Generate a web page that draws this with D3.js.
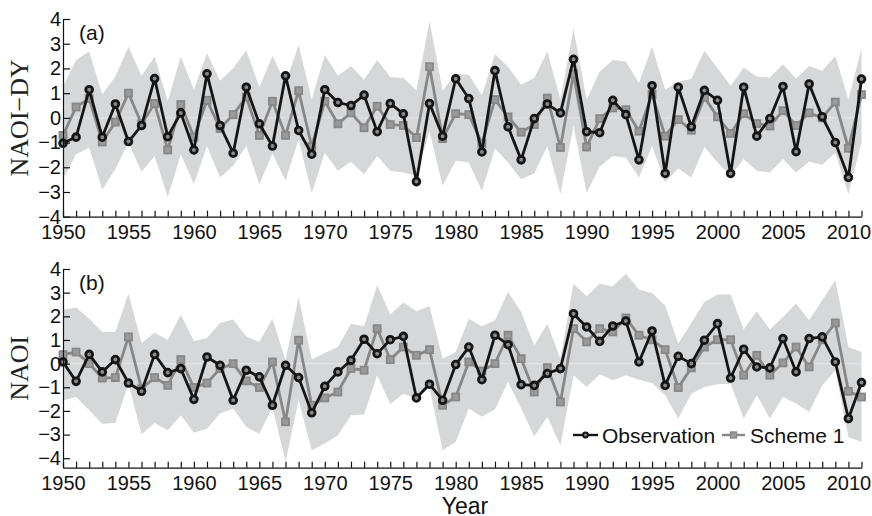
<!DOCTYPE html>
<html lang="en">
<head>
    <meta charset="UTF-8">
    <title>NAOI-DY and NAOI</title>
    <script type="text/javascript" src="https://d3js.org/d3.v7.min.js"></script>
    <style>
      body { margin: 0; background: #fff; }
      svg text { font-family: "Liberation Sans", Arial, sans-serif; }
    </style>
    <script type="text/javascript">
      // years on the x axis
      var years = d3.range(1950, 2012);
      var yearLabels = [1950, 1955, 1960, 1965, 1970, 1975, 1980, 1985, 1990, 1995, 2000, 2005, 2010];
      var yTicks = [-4, -3, -2, -1, 0, 1, 2, 3, 4];

      // panel (a) NAOI-DY
      var obsA = [-1.03, -0.78, 1.14, -0.78, 0.56, -0.96, -0.31, 1.59, -0.76, 0.20,
                  -1.30, 1.78, -0.31, -1.43, 1.24, -0.24, -1.14, 1.70, -0.51, -1.47,
                  1.14, 0.62, 0.50, 0.92, -0.56, 0.58, 0.16, -2.58, 0.58, -0.74,
                  1.58, 0.78, -1.38, 1.91, -0.36, -1.70, -0.03, 0.56, 0.20, 2.37,
                  -0.56, -0.60, 0.71, 0.13, -1.70, 1.30, -2.25, 1.24, -0.36, 1.11,
                  0.71, -2.25, 1.24, -0.74, -0.03, 1.27, -1.37, 1.37, 0.04, -1.00, -2.41, 1.57];
      var simA = [-0.71, 0.44, 0.78, -0.98, -0.17, 1.00, -0.24, 0.58, -1.30, 0.54,
                  -0.78, 0.71, -0.43, 0.13, 0.84, -0.71, 0.67, -0.71, 1.10, -1.16,
                  0.67, -0.24, 0.20, -0.40, 0.47, -0.27, -0.31, -0.80, 2.07, -0.84,
                  0.17, 0.13, -1.03, 0.74, 0.04, -0.58, -0.27, 0.80, -1.20, 1.78,
                  -1.18, -0.03, 0.40, 0.33, -0.54, 0.96, -0.74, -0.07, -0.50, 0.83,
                  0.04, -0.63, 0.17, -0.23, -0.33, 0.29, -0.31, 0.20, 0.00, 0.64, -1.23, 0.94];
      var upA = [1.27, 2.34, 2.68, 0.94, 1.67, 2.88, 1.70, 2.48, 0.67, 2.48,
                 1.14, 2.61, 1.50, 2.01, 2.74, 1.24, 2.50, 1.41, 2.95, 0.74,
                 2.54, 1.70, 2.10, 1.54, 2.34, 1.65, 1.61, 1.11, 3.92, 1.11,
                 1.78, 1.74, 0.91, 2.58, 2.07, 1.34, 1.61, 2.68, 0.74, 3.61,
                 0.74, 1.87, 2.34, 2.28, 1.41, 2.88, 1.14, 1.47, 1.57, 2.72,
                 2.01, 1.30, 2.04, 1.67, 1.63, 2.17, 1.58, 2.10, 1.91, 2.50, 0.74, 2.81];
      var loA = [-2.48, -1.47, -1.20, -2.90, -2.07, -1.00, -2.18, -1.54, -3.21, -1.47,
                 -2.68, -1.14, -2.41, -1.94, -1.14, -2.68, -1.45, -2.54, -0.87, -3.04,
                 -1.41, -2.14, -1.78, -2.28, -1.54, -2.14, -2.21, -2.34, -0.54, -2.74,
                 -1.74, -1.81, -2.95, -1.24, -1.81, -2.48, -2.24, -1.14, -3.08, -0.31,
                 -3.04, -1.98, -1.54, -1.61, -2.41, -1.14, -2.61, -2.05, -2.41, -1.18,
                 -1.81, -2.34, -1.67, -2.14, -2.21, -1.67, -2.21, -1.77, -1.91, -1.41, -3.08, -1.00];

      // panel (b) NAOI
      var obsB = [0.07, -0.75, 0.39, -0.35, 0.17, -0.82, -1.17, 0.39, -0.38, -0.21,
                  -1.51, 0.28, -0.07, -1.55, -0.28, -0.56, -1.76, -0.07, -0.59, -2.08,
                  -0.96, -0.35, 0.14, 1.03, 0.42, 1.01, 1.15, -1.45, -0.87, -1.55,
                  -0.04, 0.70, -0.68, 1.20, 0.80, -0.89, -0.92, -0.42, -0.21, 2.11,
                  1.55, 0.94, 1.59, 1.80, 0.07, 1.38, -0.92, 0.31, 0.00, 0.99,
                  1.69, -0.61, 0.61, -0.14, -0.18, 1.06, -0.35, 1.06, 1.13, 0.07, -2.32, -0.80];
      var simB = [0.38, 0.49, 0.00, -0.61, -0.59, 1.13, -1.06, -0.59, -0.92, 0.17,
                  -1.01, -0.82, -0.21, 0.00, -0.73, -1.01, 0.07, -2.46, 0.99, -1.76,
                  -1.45, -1.20, -0.21, -0.28, 1.48, 0.17, 0.70, 0.35, 0.59, -1.76,
                  -1.41, 0.07, -0.31, 0.00, 1.20, 0.21, -1.20, -0.17, -1.62, 1.48,
                  0.92, 1.48, 1.34, 1.93, 1.20, 1.01, 0.59, -1.01, -0.18, 0.70,
                  1.01, 1.01, -0.49, 0.35, -0.49, 0.03, 0.70, -0.14, 1.01, 1.72, -1.17, -1.41];
      var upB = [2.28, 2.37, 1.90, 1.34, 1.34, 2.96, 0.87, 1.30, 1.01, 2.07,
                 0.96, 1.08, 1.72, 1.86, 1.15, 0.92, 1.90, 0.14, 2.82, 0.17,
                 0.45, 0.70, 1.69, 1.58, 3.31, 2.08, 2.58, 2.21, 2.44, 0.21,
                 0.49, 1.90, 1.58, 1.83, 3.03, 2.18, 0.77, 1.69, 0.21, 3.38,
                 2.85, 3.38, 3.27, 3.80, 3.13, 2.99, 2.46, 0.85, 1.72, 2.61,
                 2.92, 2.92, 1.44, 2.21, 1.44, 1.97, 2.54, 1.83, 2.68, 3.52, 0.70, 0.49];
      var loB = [-1.55, -1.41, -1.97, -2.54, -2.51, -0.85, -2.99, -2.51, -2.82, -2.18,
                 -2.92, -2.75, -2.11, -1.90, -2.68, -2.96, -1.83, -4.15, -1.55, -3.66,
                 -3.38, -3.03, -2.18, -2.15, -0.49, -1.72, -1.27, -1.48, -1.01, -3.66,
                 -3.31, -1.90, -2.25, -1.94, -0.77, -1.90, -3.07, -2.25, -3.45, -0.49,
                 -0.99, -0.45, -0.70, -0.49, -0.68, -0.82, -1.34, -2.32, -1.27, -0.99,
                 -0.87, -0.85, -2.32, -1.34, -2.32, -1.41, -1.69, -2.04, -0.92, -0.28, -3.10, -3.31];

      var seriesNames = ["Observation", "Scheme 1"];

      function diagrama() {
        var ancho = 872, alto = 516;
        var negro = "#151515", gris = "#878787", banda = "#d6d7d9";

        var svg = d3.select("body").append("svg")
            .attr("width", ancho)
            .attr("height", alto);

        // x scale shared by both panels
        var x = d3.scaleLinear().domain([1950, 2011]).range([63, 861.5]);

        var paneles = [
          {tag: "(a)", label: "NAOI\u2212DY", obs: obsA, sim: simA, up: upA, lo: loA,
           dom: [-4, 4], top: 19, bottom: 216.7},
          {tag: "(b)", label: "NAOI", obs: obsB, sim: simB, up: upB, lo: loB,
           dom: [-4.4, 4], top: 269, bottom: 467.7}
        ];

        paneles.forEach(function(p) {
          var y = d3.scaleLinear().domain(p.dom).range([p.bottom, p.top]);
          var g = svg.append("g");

          // shaded spread
          var area = d3.area()
              .x(function(d, i) { return x(years[i]); })
              .y0(function(d, i) { return y(p.lo[i]); })
              .y1(function(d, i) { return y(p.up[i]); });
          g.append("path").datum(years)
              .attr("d", area)
              .attr("fill", banda);

          // faint zero line
          g.append("line")
              .attr("x1", x(1950)).attr("x2", x(2011))
              .attr("y1", y(0)).attr("y2", y(0))
              .attr("stroke", "#e6e6e7").attr("stroke-width", 1);

          var linea = function(vals) {
            return d3.line()
              .x(function(d, i) { return x(years[i]); })
              .y(function(d) { return y(d); })(vals);
          };

          // scheme 1 (gray squares)
          g.append("path").attr("d", linea(p.sim))
              .attr("fill", "none").attr("stroke", gris).attr("stroke-width", 2.8);
          g.selectAll(".sq").data(p.sim).enter().append("rect")
              .attr("x", function(d, i) { return x(years[i]) - 3.5; })
              .attr("y", function(d) { return y(d) - 3.5; })
              .attr("width", 7).attr("height", 7)
              .attr("fill", "#9a9a9a").attr("stroke", gris).attr("stroke-width", 1.8);

          // observation (black circles)
          g.append("path").attr("d", linea(p.obs))
              .attr("fill", "none").attr("stroke", negro).attr("stroke-width", 2.8);
          g.selectAll(".ci").data(p.obs).enter().append("circle")
              .attr("cx", function(d, i) { return x(years[i]); })
              .attr("cy", function(d) { return y(d); })
              .attr("r", 3.4)
              .attr("fill", "#8a8a8a").attr("stroke", negro).attr("stroke-width", 2.8);

          // x axis: ticks every year pointing inwards, labels every 5 years
          var ejeX = d3.axisBottom(x)
              .tickValues(years)
              .tickSizeInner(-6).tickSizeOuter(0).tickPadding(8)
              .tickFormat(function(d) { return yearLabels.indexOf(d) >= 0 ? d : ""; });
          var gx = svg.append("g")
              .attr("transform", "translate(0," + p.bottom + ")")
              .call(ejeX);
          gx.selectAll("text").attr("font-size", 20).attr("fill", "#111")
              .style("font-family", "Liberation Sans, Arial, sans-serif");

          // y axis
          var ejeY = d3.axisLeft(y)
              .tickValues(yTicks)
              .tickSizeInner(-7).tickSizeOuter(0).tickPadding(2)
              .tickFormat(d3.format("d"));
          var gy = svg.append("g")
              .attr("transform", "translate(" + x(1950) + ",0)")
              .call(ejeY);
          gy.selectAll("text").attr("font-size", 20).attr("fill", "#111")
              .style("font-family", "Liberation Sans, Arial, sans-serif");

          svg.selectAll(".domain, .tick line").attr("stroke", "#111").attr("stroke-width", 1.2);

          // panel tag
          svg.append("text")
              .attr("x", 79).attr("y", p.top + 21)
              .attr("font-size", 21).attr("fill", "#111")
              .text(p.tag);

          // y label (serif)
          svg.append("text")
              .attr("transform", "translate(28," + ((p.top + p.bottom) / 2) + ") rotate(-90)")
              .attr("text-anchor", "middle")
              .attr("font-size", 26).attr("fill", "#222")
              .style("font-family", "Liberation Serif, Times New Roman, serif")
              .text(p.label);
        });

        // x label
        svg.append("text")
            .attr("x", 465).attr("y", 514)
            .attr("text-anchor", "middle")
            .attr("font-size", 23).attr("fill", "#111")
            .text("Year");

        // legend
        var ley = svg.append("g").attr("transform", "translate(573,435)");
        ley.append("line").attr("x1", 0).attr("x2", 25).attr("y1", 0).attr("y2", 0)
            .attr("stroke", negro).attr("stroke-width", 2.4);
        ley.append("circle").attr("cx", 12.5).attr("cy", 0).attr("r", 2.4)
            .attr("fill", "#8a8a8a").attr("stroke", negro).attr("stroke-width", 2);
        ley.append("text").attr("x", 29).attr("y", 7.5)
            .attr("font-size", 21).attr("fill", "#111").text(seriesNames[0]);
        ley.append("line").attr("x1", 149).attr("x2", 172).attr("y1", 0).attr("y2", 0)
            .attr("stroke", gris).attr("stroke-width", 2.4);
        ley.append("rect").attr("x", 157.5).attr("y", -3).attr("width", 6).attr("height", 6)
            .attr("fill", "#9a9a9a").attr("stroke", gris).attr("stroke-width", 1.4);
        ley.append("text").attr("x", 177).attr("y", 7.5)
            .attr("font-size", 21).attr("fill", "#111").text(seriesNames[1]);
      }
    </script>
</head>
<body onload="diagrama()">
</body>
</html>
